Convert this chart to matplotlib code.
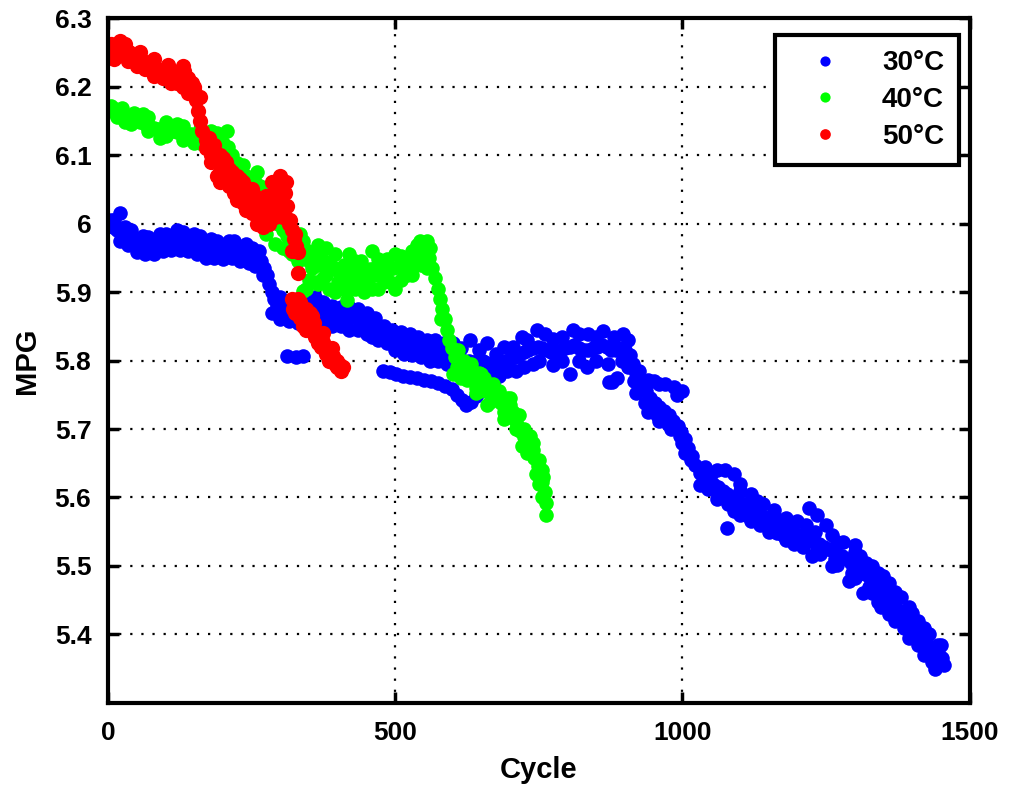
import matplotlib
matplotlib.use("Agg")
import matplotlib.pyplot as plt

plt.rcParams['font.family'] = ['Liberation Sans', 'DejaVu Sans']
plt.rcParams['font.weight'] = 'bold'

# ---- 30 C (cycle, MPG) ----
# centre of the band
x_30 = [0, 8, 16, 21, 26, 34, 42, 50, 58, 66, 74, 82, 90, 98, 106, 114, 122, 130, 138, 146, 154,
        162, 170, 178, 186, 194, 202, 210, 218, 226, 234, 242, 250, 258, 266, 272, 277, 281, 285,
        289, 294, 300, 308, 316, 324, 332, 340, 348, 356, 364, 372, 380, 388, 396, 404, 412, 420,
        428, 436, 444, 452, 460, 468, 476, 484, 492, 500, 508, 516, 524, 532, 540, 548, 556, 564,
        572, 580, 588, 596, 604, 612, 620, 628, 636, 644, 652, 660, 668, 676, 684, 692, 700, 708,
        716, 724, 732, 740, 748, 756, 764, 772, 780, 788, 796, 804, 812, 820, 828, 836, 844, 852,
        860, 868, 876, 884, 892, 900, 908, 914, 920, 928, 936, 944, 952, 960, 968, 976, 984, 992,
        998, 1004, 1010, 1016, 1022, 1030, 1038, 1046, 1054, 1062, 1070, 1078, 1086, 1094, 1102,
        1110, 1118, 1126, 1134, 1142, 1150, 1158, 1166, 1174, 1182, 1190, 1198, 1206, 1214, 1222,
        1230, 1238, 1246, 1254, 1262, 1270, 1278, 1286, 1294, 1302, 1310, 1318, 1326, 1334, 1342,
        1350, 1358, 1366, 1374, 1382, 1390, 1398, 1406, 1414, 1422, 1430, 1438, 1446, 1452]
y_30 = [6.000, 5.995, 5.990, 6.015, 5.988, 5.985, 5.978, 5.972, 5.968, 5.966, 5.968, 5.970, 5.972,
        5.975, 5.976, 5.978, 5.978, 5.976, 5.974, 5.972, 5.970, 5.968, 5.966, 5.964, 5.962, 5.960,
        5.960, 5.962, 5.963, 5.960, 5.957, 5.955, 5.952, 5.950, 5.945, 5.935, 5.925, 5.912, 5.900,
        5.890, 5.880, 5.875, 5.872, 5.872, 5.874, 5.872, 5.870, 5.873, 5.875, 5.872, 5.870, 5.868,
        5.866, 5.864, 5.862, 5.860, 5.862, 5.864, 5.860, 5.856, 5.853, 5.850, 5.847, 5.843, 5.838,
        5.834, 5.830, 5.828, 5.826, 5.824, 5.822, 5.820, 5.818, 5.816, 5.815, 5.813, 5.812, 5.810,
        5.808, 5.805, 5.802, 5.800, 5.800, 5.798, 5.800, 5.800, 5.796, 5.794, 5.794, 5.796, 5.800,
        5.802, 5.805, 5.808, 5.812, 5.815, 5.818, 5.820, 5.818, 5.815, 5.812, 5.812, 5.815, 5.818,
        5.820, 5.822, 5.818, 5.815, 5.815, 5.818, 5.820, 5.822, 5.820, 5.815, 5.815, 5.818, 5.815,
        5.808, 5.795, 5.782, 5.768, 5.755, 5.745, 5.738, 5.732, 5.726, 5.720, 5.712, 5.705, 5.695,
        5.685, 5.672, 5.660, 5.648, 5.636, 5.630, 5.625, 5.620, 5.615, 5.610, 5.605, 5.600, 5.596,
        5.592, 5.588, 5.584, 5.580, 5.576, 5.572, 5.568, 5.564, 5.560, 5.556, 5.553, 5.550, 5.547,
        5.544, 5.541, 5.538, 5.535, 5.532, 5.528, 5.525, 5.522, 5.518, 5.514, 5.510, 5.505, 5.500,
        5.494, 5.488, 5.482, 5.475, 5.468, 5.460, 5.452, 5.445, 5.437, 5.428, 5.420, 5.412, 5.404,
        5.396, 5.390, 5.383, 5.376, 5.370, 5.365]
# upper part of the band
x_30_up = [10, 30, 60, 90, 120, 150, 180, 210, 240, 262, 300, 330, 360, 390, 420, 450, 480, 510,
           540, 570, 600, 630, 660, 690, 720, 746, 775, 809, 835, 861, 896, 940, 960, 985, 999,
           1040, 1075, 1090, 1120, 1160, 1200, 1220, 1235, 1250, 1280, 1310, 1340, 1370, 1400,
           1430, 1450,
           5, 40, 70, 100, 130, 160, 190, 220, 250, 310, 345, 375, 405, 435, 465, 495, 525, 555,
           585, 615, 645, 675, 705, 730, 760, 790, 820, 850, 880, 905, 925, 950, 970, 990, 1050,
           1100, 1140, 1180, 1215, 1260, 1300, 1330, 1360, 1395, 1420, 1445,
           1060, 1100, 1130, 1160, 1190, 1230, 1270, 1300, 1320, 1350, 1380, 1410]
y_30_up = [6.005, 5.995, 5.982, 5.985, 5.990, 5.985, 5.978, 5.975, 5.970, 5.960, 5.893, 5.890,
           5.892, 5.880, 5.878, 5.870, 5.850, 5.842, 5.835, 5.830, 5.825, 5.830, 5.825, 5.820,
           5.835, 5.845, 5.832, 5.845, 5.838, 5.843, 5.838, 5.772, 5.765, 5.762, 5.756, 5.645,
           5.640, 5.635, 5.605, 5.582, 5.565, 5.585, 5.575, 5.560, 5.535, 5.515, 5.490, 5.462,
           5.432, 5.400, 5.385,
           6.005, 5.990, 5.980, 5.985, 5.988, 5.982, 5.975, 5.975, 5.965, 5.885, 5.888, 5.885,
           5.878, 5.875, 5.862, 5.845, 5.838, 5.830, 5.825, 5.818, 5.815, 5.810, 5.820, 5.830,
           5.838, 5.835, 5.838, 5.835, 5.835, 5.830, 5.785, 5.770, 5.765, 5.750, 5.635, 5.610,
           5.590, 5.570, 5.560, 5.545, 5.520, 5.500, 5.475, 5.440, 5.410, 5.385,
           5.640, 5.620, 5.595, 5.575, 5.560, 5.550, 5.535, 5.530, 5.505, 5.485, 5.455, 5.420]
# lower part of the band
x_30_lo = [20, 50, 80, 110, 140, 170, 200, 230, 255, 270, 285, 300, 330, 360, 390, 420, 450, 470,
           500, 530, 560, 590, 620, 650, 680, 710, 740, 775, 804, 833, 877, 886, 905, 920, 940,
           960, 980, 995, 1005, 1030, 1060, 1090, 1120, 1150, 1180, 1210, 1240, 1270, 1300, 1330,
           1345, 1360, 1385, 1410, 1440, 1455,
           35, 65, 95, 125, 155, 185, 215, 245, 315, 345, 375, 405, 435, 460, 485, 515, 545, 575,
           605, 635, 665, 695, 725, 750, 790, 820, 850, 870, 895, 915, 935, 955, 975, 1000, 1015,
           1045, 1080, 1110, 1145, 1175, 1205, 1235, 1265, 1295, 1325, 1355, 1375, 1400, 1425,
           1445,
           1065, 1100, 1135, 1165, 1195, 1225, 1260, 1290, 1315, 1340, 1370, 1395, 1420, 1435]
y_30_lo = [5.975, 5.958, 5.955, 5.962, 5.960, 5.950, 5.948, 5.945, 5.938, 5.925, 5.870, 5.860,
           5.855, 5.855, 5.850, 5.845, 5.838, 5.830, 5.815, 5.808, 5.800, 5.795, 5.785, 5.780,
           5.778, 5.785, 5.795, 5.793, 5.780, 5.790, 5.768, 5.775, 5.790, 5.752, 5.725, 5.712,
           5.700, 5.690, 5.665, 5.618, 5.598, 5.580, 5.565, 5.550, 5.538, 5.528, 5.518, 5.502,
           5.482, 5.460, 5.440, 5.430, 5.410, 5.385, 5.350, 5.355,
           5.968, 5.955, 5.960, 5.962, 5.955, 5.950, 5.950, 5.942, 5.858, 5.858, 5.852, 5.850,
           5.845, 5.835, 5.825, 5.810, 5.805, 5.800, 5.790, 5.785, 5.782, 5.785, 5.790, 5.800,
           5.800, 5.800, 5.800, 5.795, 5.800, 5.770, 5.738, 5.720, 5.708, 5.680, 5.655, 5.612,
           5.590, 5.575, 5.560, 5.545, 5.535, 5.525, 5.510, 5.490, 5.470, 5.440, 5.425, 5.400,
           5.375, 5.355,
           5.600, 5.575, 5.560, 5.548, 5.532, 5.515, 5.500, 5.478, 5.460, 5.448, 5.420, 5.395,
           5.370, 5.360]
# lower side strand and stray points
x_30_side = [478, 490, 502, 514, 526, 538, 550, 562, 574, 586, 598, 608, 616, 624, 632, 640, 650,
             660, 670, 311, 328, 339, 1077, 873]
y_30_side = [5.785, 5.783, 5.780, 5.778, 5.776, 5.774, 5.772, 5.770, 5.767, 5.763, 5.758, 5.750,
             5.742, 5.735, 5.740, 5.748, 5.755, 5.760, 5.765, 5.807, 5.805, 5.807, 5.556, 5.768]

# ---- 40 C ----
x_40 = [0, 8, 16, 24, 32, 40, 48, 56, 64, 72, 80, 88, 96, 104, 112, 120, 128, 136, 144, 152, 160,
        168, 176, 184, 192, 200, 208, 216, 224, 232, 240, 248, 256, 264, 272, 280, 288, 296, 304,
        312, 320, 328, 336, 344, 352, 360, 368, 376, 384, 392, 400, 408, 416, 424, 432, 440, 448,
        456, 464, 472, 480, 488, 496, 504, 512, 520, 528, 536, 544, 552, 558, 564, 569, 574, 578,
        582, 586, 590, 594, 598, 604, 612, 620, 628, 636, 644, 652, 660, 668, 676, 684, 692, 700,
        706, 712, 718, 724, 730, 736, 742, 748, 752, 756, 760, 763, 763]
y_40 = [6.165, 6.168, 6.165, 6.160, 6.157, 6.155, 6.152, 6.148, 6.145, 6.142, 6.140, 6.138, 6.137,
        6.136, 6.135, 6.134, 6.133, 6.131, 6.130, 6.128, 6.127, 6.126, 6.125, 6.122, 6.120, 6.118,
        6.112, 6.100, 6.088, 6.078, 6.070, 6.064, 6.060, 6.055, 6.045, 6.030, 6.015, 6.000, 5.990,
        5.982, 5.975, 5.970, 5.966, 5.962, 5.958, 5.955, 5.950, 5.946, 5.942, 5.936, 5.930, 5.928,
        5.925, 5.926, 5.928, 5.930, 5.932, 5.934, 5.935, 5.932, 5.930, 5.932, 5.935, 5.936, 5.938,
        5.940, 5.945, 5.955, 5.962, 5.958, 5.950, 5.935, 5.920, 5.905, 5.890, 5.875, 5.860, 5.845,
        5.830, 5.818, 5.805, 5.795, 5.787, 5.780, 5.773, 5.767, 5.761, 5.755, 5.750, 5.744, 5.738,
        5.730, 5.722, 5.714, 5.706, 5.697, 5.688, 5.678, 5.668, 5.658, 5.646, 5.635, 5.622, 5.608,
        5.592, 5.575]
x_40_up = [60, 120, 180, 207, 235, 260, 282, 300, 334, 380, 420, 460, 500, 543, 560, 610, 650,
           700, 740,
           5, 25, 45, 70, 100, 130, 160, 190, 315, 340, 365, 395, 430, 470, 510, 530, 550, 620,
           645, 670, 695, 715, 735, 755,
           305, 315, 325, 335, 350, 365, 380, 410, 425, 440, 475, 485, 525, 548, 555, 538,
           632, 655, 680, 705, 730, 750]
y_40_up = [6.160, 6.145, 6.135, 6.135, 6.085, 6.075, 6.055, 6.008, 5.985, 5.965, 5.955, 5.960,
           5.955, 5.975, 5.965, 5.815, 5.780, 5.745, 5.680,
           6.172, 6.168, 6.162, 6.155, 6.148, 6.142, 6.138, 6.132, 5.985, 5.975, 5.968, 5.955,
           5.945, 5.948, 5.952, 5.960, 5.972, 5.800, 5.782, 5.765, 5.745, 5.720, 5.690, 5.640,
           5.965, 5.960, 5.955, 5.950, 5.945, 5.940, 5.935, 5.940, 5.940, 5.945, 5.945, 5.948,
           5.950, 5.950, 5.975, 5.968,
           5.795, 5.775, 5.755, 5.725, 5.690, 5.655]
x_40_lo = [30, 90, 150, 190, 245, 262, 275, 290, 320, 345, 360, 375, 395, 410, 430, 450, 470, 490,
           510, 530, 545, 339, 416, 580, 600, 640, 660, 690, 720, 745, 755,
           15, 40, 70, 100, 130, 160, 180, 330, 355, 380, 405, 440, 480, 520, 555, 615, 640, 665,
           690, 710, 730, 750,
           350, 365, 385, 400, 420, 445, 455, 460, 465, 500, 515, 535,
           608, 625, 648, 672, 700, 725, 740, 757]
y_40_lo = [6.148, 6.125, 6.118, 6.110, 6.045, 6.000, 5.985, 5.970, 5.955, 5.905, 5.915, 5.920,
           5.900, 5.905, 5.905, 5.910, 5.905, 5.915, 5.918, 5.925, 5.940, 5.902, 5.888, 5.860,
           5.780, 5.752, 5.735, 5.715, 5.675, 5.635, 5.600,
           6.155, 6.145, 6.135, 6.128, 6.122, 6.118, 6.115, 5.945, 5.935, 5.925, 5.915, 5.915,
           5.915, 5.925, 5.935, 5.775, 5.760, 5.740, 5.725, 5.700, 5.665, 5.620,
           5.918, 5.912, 5.905, 5.915, 5.910, 5.900, 5.920, 5.905, 5.925, 5.905, 5.930, 5.940,
           5.790, 5.772, 5.755, 5.748, 5.735, 5.700, 5.670, 5.630]

# ---- 50 C ----
x_50 = [0, 8, 16, 21, 28, 36, 44, 52, 60, 68, 76, 84, 92, 100, 108, 116, 124, 132, 140, 146, 150,
        153, 156, 160, 164, 170, 177, 184, 190, 196, 202, 208, 214, 220, 226, 232, 238, 244, 250,
        256, 262, 268, 274, 280, 286, 292, 298, 304, 308, 312, 316, 320, 324, 328, 331, 331,
        320, 326, 332, 338, 344, 350, 356, 362, 368, 374, 380, 386, 392, 398, 404, 409]
y_50 = [6.253, 6.260, 6.262, 6.267, 6.258, 6.250, 6.245, 6.242, 6.238, 6.234, 6.230, 6.227, 6.224,
        6.221, 6.219, 6.218, 6.220, 6.222, 6.212, 6.205, 6.195, 6.180, 6.165, 6.150, 6.135, 6.122,
        6.114, 6.104, 6.095, 6.085, 6.076, 6.070, 6.064, 6.058, 6.052, 6.047, 6.042, 6.037, 6.032,
        6.027, 6.023, 6.020, 6.020, 6.025, 6.035, 6.045, 6.055, 6.060, 6.045, 6.025, 6.005, 5.990,
        5.978, 5.967, 5.958, 5.928,
        5.890, 5.884, 5.878, 5.870, 5.862, 5.855, 5.848, 5.841, 5.834, 5.827, 5.820, 5.813, 5.806,
        5.800, 5.794, 5.790]
x_50_extra = [15, 50, 80, 110, 130, 140, 150, 160, 170, 180, 195, 200, 210, 225, 240, 250, 260,
              270, 280, 290, 300, 315, 320, 325, 335, 345, 355, 340, 360, 370, 385, 395, 405, 190,
              230, 285,
              5, 30, 55, 80, 105, 130, 10, 35, 65, 95, 120, 145, 175, 185, 195, 205, 215, 225, 235,
              245, 255, 265, 275, 290, 300, 310, 180, 195, 210, 220, 235, 250, 265, 280, 295, 305,
              325, 322, 330, 335, 345, 352, 358, 365, 375, 380, 390, 398]
y_50_extra = [6.245, 6.230, 6.215, 6.205, 6.200, 6.190, 6.200, 6.185, 6.110, 6.090, 6.060, 6.095,
              6.080, 6.035, 6.020, 6.050, 6.000, 5.995, 6.000, 6.010, 6.030, 6.000, 5.960, 5.870,
              5.885, 5.875, 5.865, 5.850, 5.835, 5.820, 5.800, 5.795, 5.785, 6.070, 6.065, 6.060,
              6.262, 6.262, 6.250, 6.240, 6.232, 6.230, 6.240, 6.238, 6.225, 6.212, 6.205, 6.195,
              6.125, 6.115, 6.100, 6.090, 6.075, 6.070, 6.060, 6.050, 6.040, 6.035, 6.040, 6.050,
              6.070, 6.060, 6.100, 6.075, 6.055, 6.045, 6.030, 6.015, 6.005, 6.010, 6.020, 6.010,
              5.985, 5.875, 5.890, 5.862, 5.845, 5.870, 5.855, 5.825, 5.840, 5.810, 5.818, 5.790]

fig = plt.figure(figsize=(10.1, 7.85), dpi=100)
ax = fig.add_axes([0.107, 0.1045, 0.853, 0.8725])

ax.plot(x_30 + x_30_up + x_30_lo + x_30_side, y_30 + y_30_up + y_30_lo + y_30_side,
        linestyle='none', marker='o', color='#0000ff', markersize=10.5, markeredgewidth=0,
        label='30°C')
ax.plot(x_40 + x_40_up + x_40_lo, y_40 + y_40_up + y_40_lo,
        linestyle='none', marker='o', color='#00ff00', markersize=10.5, markeredgewidth=0,
        label='40°C')
ax.plot(x_50 + x_50_extra, y_50 + y_50_extra, linestyle='none', marker='o', color='#ff0000',
        markersize=11, markeredgewidth=0, label='50°C')

ax.set_xlim(0, 1500)
ax.set_ylim(5.3, 6.3)
ax.set_xticks([0, 500, 1000, 1500])
ax.set_yticks([5.4, 5.5, 5.6, 5.7, 5.8, 5.9, 6.0, 6.1, 6.2, 6.3])
ax.set_yticklabels(['5.4', '5.5', '5.6', '5.7', '5.8', '5.9', '6', '6.1', '6.2', '6.3'])
ax.grid(True, color='black', linestyle=(0, (1, 4)), linewidth=1.6)
ax.set_axisbelow(True)
ax.tick_params(direction='in', length=8, width=2.5, top=True, right=True, labelsize=19)
ax.tick_params(axis='x', pad=13)
ax.tick_params(axis='y', pad=12)
for s in ax.spines.values():
    s.set_linewidth(3)

ax.set_xlabel('Cycle', fontsize=21, fontweight='bold', labelpad=8)
ax.set_ylabel('MPG', fontsize=21, fontweight='bold', labelpad=10)

leg = ax.legend(loc='upper right', bbox_to_anchor=(0.988, 0.975), borderaxespad=0,
                fancybox=False, framealpha=1, fontsize=20, markerscale=0.7, handlelength=2.5,
                handletextpad=0.8, borderpad=0.55, labelspacing=0.38)
leg.get_frame().set_edgecolor('black')
leg.get_frame().set_linewidth(3)
for t in leg.get_texts():
    t.set_fontweight('bold')

fig.savefig('out.png', dpi=100)
